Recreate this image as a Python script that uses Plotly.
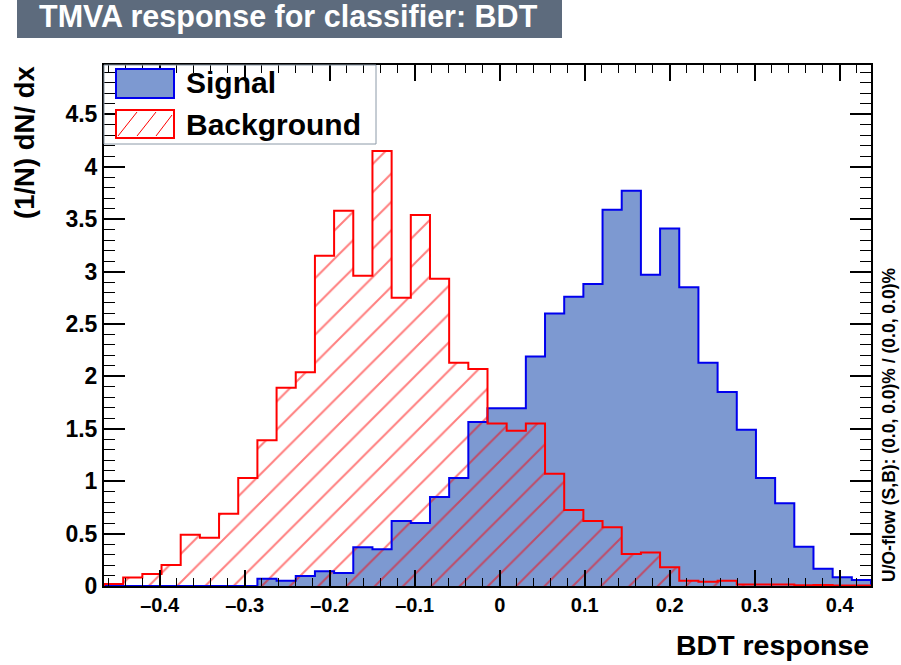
import numpy as np
import plotly.graph_objects as go

# ---------------- data ----------------
x_min = -0.4655
x_max = 0.4368
n_bins = 40

signal = [0, 0, 0, 0, 0, 0, 0, 0,
          0.07, 0.05, 0.095, 0.14, 0.125, 0.37, 0.35, 0.62, 0.60, 0.85,
          1.03, 1.565, 1.695, 1.695, 2.19, 2.60, 2.76, 2.88, 3.59, 3.77,
          2.97, 3.41, 2.85, 2.13, 1.85, 1.49, 1.03, 0.79, 0.375, 0.165,
          0.083, 0.057]

background = [0.02, 0.08, 0.115, 0.20, 0.49, 0.46, 0.69, 1.03, 1.39, 1.89,
              2.04, 3.15, 3.58, 2.96, 4.15, 2.75, 3.54, 2.93, 2.13, 2.07,
              1.55, 1.48, 1.55, 1.07, 0.725, 0.62, 0.56, 0.305, 0.32, 0.18,
              0.05, 0.04, 0.05, 0.015, 0.015, 0.015, 0.007, 0.01, 0.005, 0.005]

x_tick_vals = [-0.4, -0.3, -0.2, -0.1, 0, 0.1, 0.2, 0.3, 0.4]
x_tick_text = ["\u20130.4", "\u20130.3", "\u20130.2", "\u20130.1", "0", "0.1", "0.2", "0.3", "0.4"]
y_tick_vals = [0, 0.5, 1, 1.5, 2, 2.5, 3, 3.5, 4, 4.5]
y_tick_text = ["0", "0.5", "1", "1.5", "2", "2.5", "3", "3.5", "4", "4.5"]
y_max = 4.97

title_text = "TMVA response for classifier: BDT"
x_title = "BDT response"
y_title = "(1/N) dN/ dx"
flow_text = "U/O-flow (S,B): (0.0, 0.0)% / (0.0, 0.0)%"
legend_labels = ["Signal", "Background"]

# ---------------- styles ----------------
SIG_FILL = "#7d99d1"
SIG_LINE = "#0000ee"
BKG_LINE = "#ff0000"
TITLE_BG = "#5d6b7d"
FONT = "Liberation Sans, Arial, sans-serif"

W, H = 901, 665
ML, MR, MT, MB = 104, 30, 65, 79
PW, PH = W - ML - MR, H - MT - MB


def px(xp):
    return (xp - ML) / PW


def py(yp):
    return (H - MB - yp) / PH


edges = np.linspace(x_min, x_max, n_bins + 1)
centers = 0.5 * (edges[:-1] + edges[1:])
bw = edges[1] - edges[0]


def step_xy(vals):
    xs = [edges[0], edges[0]] + list(edges[1:n_bins]) + [edges[-1], edges[-1]]
    ys = [0] + list(vals) + [vals[-1], 0]
    return xs, ys


fig = go.Figure()

# signal fill
fig.add_trace(go.Bar(x=centers, y=signal, width=bw,
                     marker=dict(color=SIG_FILL, line=dict(width=0)),
                     name=legend_labels[0], hoverinfo="skip"))
sx, sy = step_xy(signal)
fig.add_trace(go.Scatter(x=sx, y=sy, mode="lines", line=dict(color=SIG_LINE, width=2, shape="hv"),
                         hoverinfo="skip"))

# background hatch
fig.add_trace(go.Bar(x=centers, y=background, width=bw,
                     marker=dict(color="rgba(0,0,0,0)", line=dict(width=0),
                                 pattern=dict(shape="/", fgcolor=BKG_LINE, size=20,
                                              solidity=0.1, fillmode="overlay")),
                     name=legend_labels[1], hoverinfo="skip"))
bx, by = step_xy(background)
fig.add_trace(go.Scatter(x=bx, y=by, mode="lines", line=dict(color=BKG_LINE, width=2, shape="hv"),
                         hoverinfo="skip"))

fig.update_layout(
    width=W, height=H,
    margin=dict(l=ML, r=MR, t=MT, b=MB, pad=0),
    plot_bgcolor="white", paper_bgcolor="white",
    showlegend=False, barmode="overlay", bargap=0,
    font=dict(family=FONT, color="black"),
)

fig.update_xaxes(
    range=[x_min, x_max], tickmode="array", tickvals=x_tick_vals, ticktext=x_tick_text,
    ticks="inside", ticklen=16, tickwidth=1.5, tickcolor="black",
    mirror="allticks", showline=True, linecolor="black", linewidth=2,
    showgrid=False, zeroline=False,
    minor=dict(dtick=0.02, tick0=0, ticks="inside", ticklen=8, tickwidth=1, tickcolor="black", showgrid=False),
    tickfont=dict(family=FONT, size=20, color="black", weight="bold"),
)
fig.update_yaxes(
    range=[0, y_max], tickmode="array", tickvals=y_tick_vals, ticktext=y_tick_text,
    ticks="inside", ticklen=21, tickwidth=1.5, tickcolor="black",
    mirror="allticks", showline=True, linecolor="black", linewidth=2,
    showgrid=False, zeroline=False,
    minor=dict(dtick=0.1, tick0=0, ticks="inside", ticklen=11, tickwidth=1, tickcolor="black", showgrid=False),
    tickfont=dict(family=FONT, size=23, color="black", weight="bold"),
)

shapes = []
annotations = []

# title box
shapes.append(dict(type="rect", xref="paper", yref="paper",
                   x0=px(17), x1=px(562), y0=py(38), y1=py(0),
                   fillcolor=TITLE_BG, line=dict(width=0), layer="above"))
annotations.append(dict(text=title_text, xref="paper", yref="paper", x=px(288), y=py(16),
                        xanchor="center", yanchor="middle", showarrow=False,
                        font=dict(family=FONT, size=30.5, color="white", weight="bold")))

# axis titles
annotations.append(dict(text=x_title, xref="paper", yref="paper", x=px(871), y=py(645),
                        xanchor="right", yanchor="middle", showarrow=False,
                        font=dict(family=FONT, size=28.5, color="black", weight="bold")))
annotations.append(dict(text=y_title, xref="paper", yref="paper", x=px(24), y=py(143),
                        xanchor="center", yanchor="middle", showarrow=False, textangle=-90,
                        font=dict(family=FONT, size=27.5, color="black", weight="bold")))
annotations.append(dict(text=flow_text, xref="paper", yref="paper", x=px(889), y=py(424),
                        xanchor="center", yanchor="middle", showarrow=False, textangle=-90,
                        font=dict(family=FONT, size=17.5, color="black", weight="bold")))

# legend
shapes.append(dict(type="rect", xref="paper", yref="paper",
                   x0=px(104), x1=px(376), y0=py(144), y1=py(65),
                   fillcolor="rgba(0,0,0,0)", line=dict(color="#8c9aa8", width=1)))
shapes.append(dict(type="rect", xref="paper", yref="paper",
                   x0=px(116), x1=px(174), y0=py(98), y1=py(69),
                   fillcolor=SIG_FILL, line=dict(color=SIG_LINE, width=2)))
shapes.append(dict(type="rect", xref="paper", yref="paper",
                   x0=px(116), x1=px(174), y0=py(138), y1=py(110),
                   fillcolor="white", line=dict(color=BKG_LINE, width=2)))
for (a, b, c, d) in [(118, 136, 137, 112), (137, 136, 156, 112), (156, 136, 172, 115)]:
    shapes.append(dict(type="line", xref="paper", yref="paper",
                       x0=px(a), y0=py(b), x1=px(c), y1=py(d),
                       line=dict(color=BKG_LINE, width=1)))
annotations.append(dict(text=legend_labels[0], xref="paper", yref="paper", x=px(184), y=py(83),
                        xanchor="left", yanchor="middle", showarrow=False,
                        font=dict(family=FONT, size=30, color="black", weight="bold")))
annotations.append(dict(text=legend_labels[1], xref="paper", yref="paper", x=px(184), y=py(124),
                        xanchor="left", yanchor="middle", showarrow=False,
                        font=dict(family=FONT, size=30, color="black", weight="bold")))

fig.update_layout(shapes=shapes, annotations=annotations)

fig.write_html("out.html")
